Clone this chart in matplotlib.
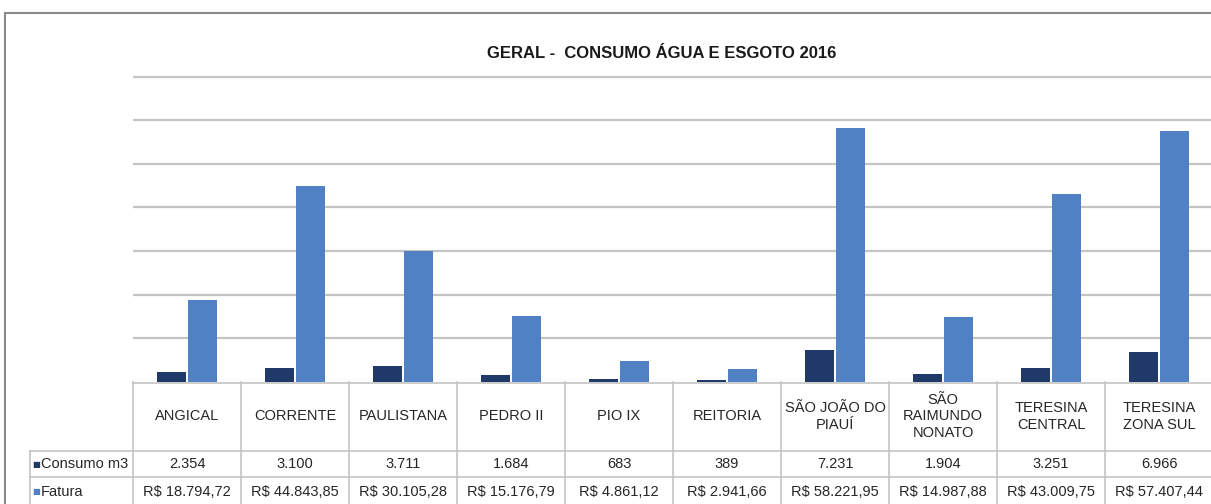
import numpy as np
import matplotlib
matplotlib.use('Agg')
import matplotlib.pyplot as plt
from matplotlib.patches import Rectangle

# data
unidades = ['ANGICAL', 'CORRENTE', 'PAULISTANA', 'PEDRO II', 'PIO IX', 'REITORIA',
            'SÃO JOÃO DO\nPIAUÍ', 'SÃO\nRAIMUNDO\nNONATO', 'TERESINA\nCENTRAL',
            'TERESINA\nZONA SUL']
consumo = [2354, 3100, 3711, 1684, 683, 389, 7231, 1904, 3251, 6966]
fatura = [18794.72, 44843.85, 30105.28, 15176.79, 4861.12, 2941.66, 58221.95,
          14987.88, 43009.75, 57407.44]

cor_consumo = '#1f3a68'
cor_fatura = '#4f81c4'
cor_linha = '#c4c4c4'

plt.rcParams['font.family'] = ['Liberation Sans', 'DejaVu Sans']


def fmt_int(v):
    return f"{v:,.0f}".replace(",", ".")


def fmt_real(v):
    s = f"{v:,.2f}".replace(",", "X").replace(".", ",").replace("X", ".")
    return "R$ " + s


W, H = 1211, 504
fig = plt.figure(figsize=(W/100, H/100), dpi=100)

# plot area in pixels
x0, x1 = 133, 1213
ybase = 382
pxu = (382 - 76.5) / 70000.0
ymax = 71000
ytop = ybase - ymax * pxu
ax = fig.add_axes([x0/W, (H-ybase)/H, (x1-x0)/W, (ybase-ytop)/H])

x = np.arange(len(unidades))
ax.bar(x - 0.14, consumo, width=0.27, color=cor_consumo, zorder=3)
ax.bar(x + 0.145, fatura, width=0.27, color=cor_fatura, zorder=3)
ax.set_xlim(-0.5, len(unidades) - 0.5)
ax.set_ylim(0, ymax)
ax.set_yticks(np.arange(10000, 70001, 10000))
ax.yaxis.grid(True, color=cor_linha, linewidth=1.6, zorder=0)
ax.tick_params(left=False, bottom=False, labelleft=False, labelbottom=False)
for s in ax.spines.values():
    s.set_visible(False)

# data table under the chart
tab = fig.add_axes([x0/W, 0, (x1-x0)/W, (H-ybase)/H])
tab.set_xlim(-0.5, len(unidades) - 0.5)
tab.set_ylim(H - ybase, 0)
tab.axis('off')
esq = -0.5 - (x0 - 30) / 108.0
r1, r2, fim = 451 - ybase, 477 - ybase, H - ybase
kw = dict(color=cor_linha, linewidth=1.2, clip_on=False)
tab.plot([-0.5, 9.5], [0.5, 0.5], **kw)
tab.plot([esq, 9.5], [r1, r1], **kw)
tab.plot([esq, 9.5], [r2, r2], **kw)
tab.plot([esq, esq], [r1, fim], **kw)
for k in range(len(unidades) + 1):
    tab.plot([k - 0.5, k - 0.5], [0, fim], **kw)

tf = dict(fontsize=10.5, color='#262626', ha='center', va='center')
for i, nome in enumerate(unidades):
    tab.text(i, r1/2, nome, linespacing=1.2, **tf)
    tab.text(i, (r1 + r2)/2, fmt_int(consumo[i]), **tf)
    tab.text(i, (r2 + fim)/2 + 1, fmt_real(fatura[i]), **tf)

xq = -0.5 - (x0 - 36) / 108.0
xt = -0.5 - (x0 - 41) / 108.0
for yy, cor, rot in [((r1 + r2)/2, cor_consumo, 'Consumo m3'),
                     ((r2 + fim)/2 + 1, cor_fatura, 'Fatura')]:
    tab.text(xq, yy, '■', fontsize=6, color=cor, family='DejaVu Sans',
             ha='center', va='center', clip_on=False)
    tab.text(xt, yy, rot, fontsize=10.5, color='#262626',
             ha='left', va='center', clip_on=False)

# title
fig.text(662/W, (H-53)/H, 'GERAL -  CONSUMO ÁGUA E ESGOTO 2016', fontsize=12,
         fontweight='bold', color='#1a1a1a', ha='center', va='center')

# outer chart frame (cut at right and bottom)
fig.patches.append(Rectangle((5/W, -0.1), 1.2, (H-13)/H + 0.1,
                             transform=fig.transFigure, fill=False,
                             edgecolor='#8a8a8a', linewidth=1.5))

fig.savefig('out.png', dpi=100)
